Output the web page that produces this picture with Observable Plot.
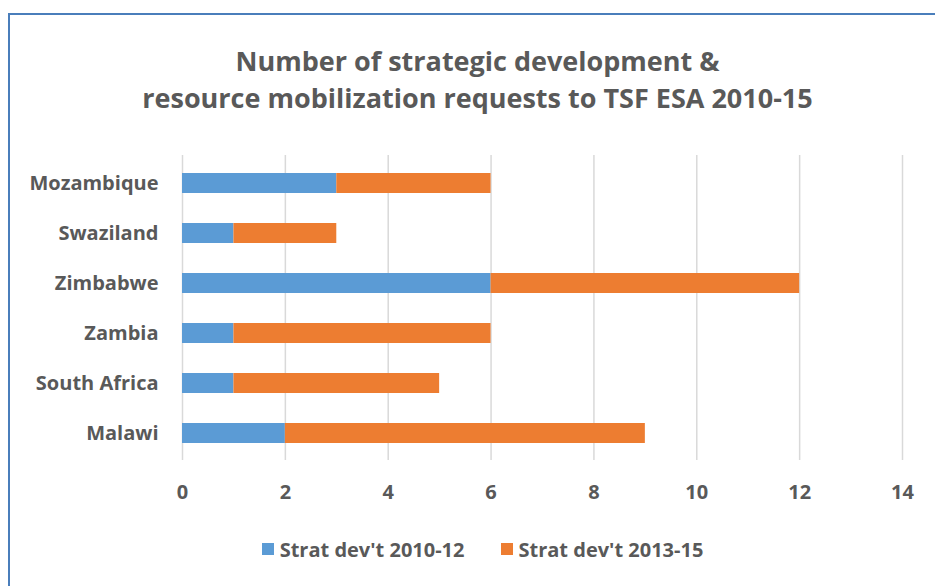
<!DOCTYPE html>
<html><head><meta charset="utf-8">
<script src="https://cdn.jsdelivr.net/npm/d3@7"></script>
<script src="https://cdn.jsdelivr.net/npm/@observablehq/plot@0.6"></script>
<style>
html,body{margin:0;padding:0;background:#fff;}
#wrap{position:relative;width:935px;height:586px;overflow:hidden;font-family:"Open Sans",sans-serif;color:#595959;}
#frame{position:absolute;left:8px;top:13px;width:1000px;height:700px;border:2px solid #4a7ebb;}
#title{position:absolute;left:0;width:955px;top:42px;text-align:center;font-weight:700;font-size:27px;line-height:37px;color:#595959;}
#chart{position:absolute;left:0;top:0;}
#legend{position:absolute;left:0;width:965px;top:534px;text-align:center;font-weight:700;font-size:20px;color:#595959;}
#legend span.item{display:inline-flex;align-items:center;margin:0 18px;}
#legend span.sw{display:inline-block;width:12px;height:12px;margin-right:6px;}
#chart svg text{font-size:20px;}
</style></head>
<body>
<div id="wrap">
<div id="frame"></div>
<div id="title">Number of strategic development &amp;<br>resource mobilization requests to TSF ESA 2010-15</div>
<div id="chart"></div>
<div id="legend"></div>
</div>
<script>
const countries = ["Mozambique","Swaziland","Zimbabwe","Zambia","South Africa","Malawi"];
const series = ["Strat dev't 2010-12","Strat dev't 2013-15"];
const values2010_12 = [3,1,6,1,1,2];
const values2013_15 = [3,2,6,5,4,7];
const colors = ["#5b9bd5","#ed7d31"];
const xTicks = [0,2,4,6,8,10,12,14];

const data = [];
countries.forEach((c,i)=>{
  data.push({country:c, series:series[0], value:values2010_12[i]});
  data.push({country:c, series:series[1], value:values2013_15[i]});
});

const chart = Plot.plot({
  width:935, height:586,
  marginLeft:182, marginRight:33, marginTop:155, marginBottom:126,
  style:{fontFamily:"'Open Sans',sans-serif", fontWeight:700, fontSize:"20px", color:"#595959", background:"transparent"},
  x:{domain:[0,14], ticks:xTicks, label:null, tickSize:0, tickPadding:24},
  y:{domain:countries, paddingInner:0.6, paddingOuter:0.3, label:null, tickSize:0, tickPadding:24},
  color:{domain:series, range:colors},
  marks:[
    Plot.ruleX(xTicks,{stroke:"#d9d9d9", strokeWidth:1.5}),
    Plot.barX(data, Plot.stackX({x:"value", y:"country", fill:"series", order:series})),
  ]
});
document.getElementById("chart").appendChild(chart);

const leg = document.getElementById("legend");
series.forEach((s,i)=>{
  const it = document.createElement("span"); it.className="item";
  const sw = document.createElement("span"); sw.className="sw"; sw.style.background=colors[i];
  it.appendChild(sw); it.appendChild(document.createTextNode(s));
  leg.appendChild(it);
});
</script>
</body></html>
